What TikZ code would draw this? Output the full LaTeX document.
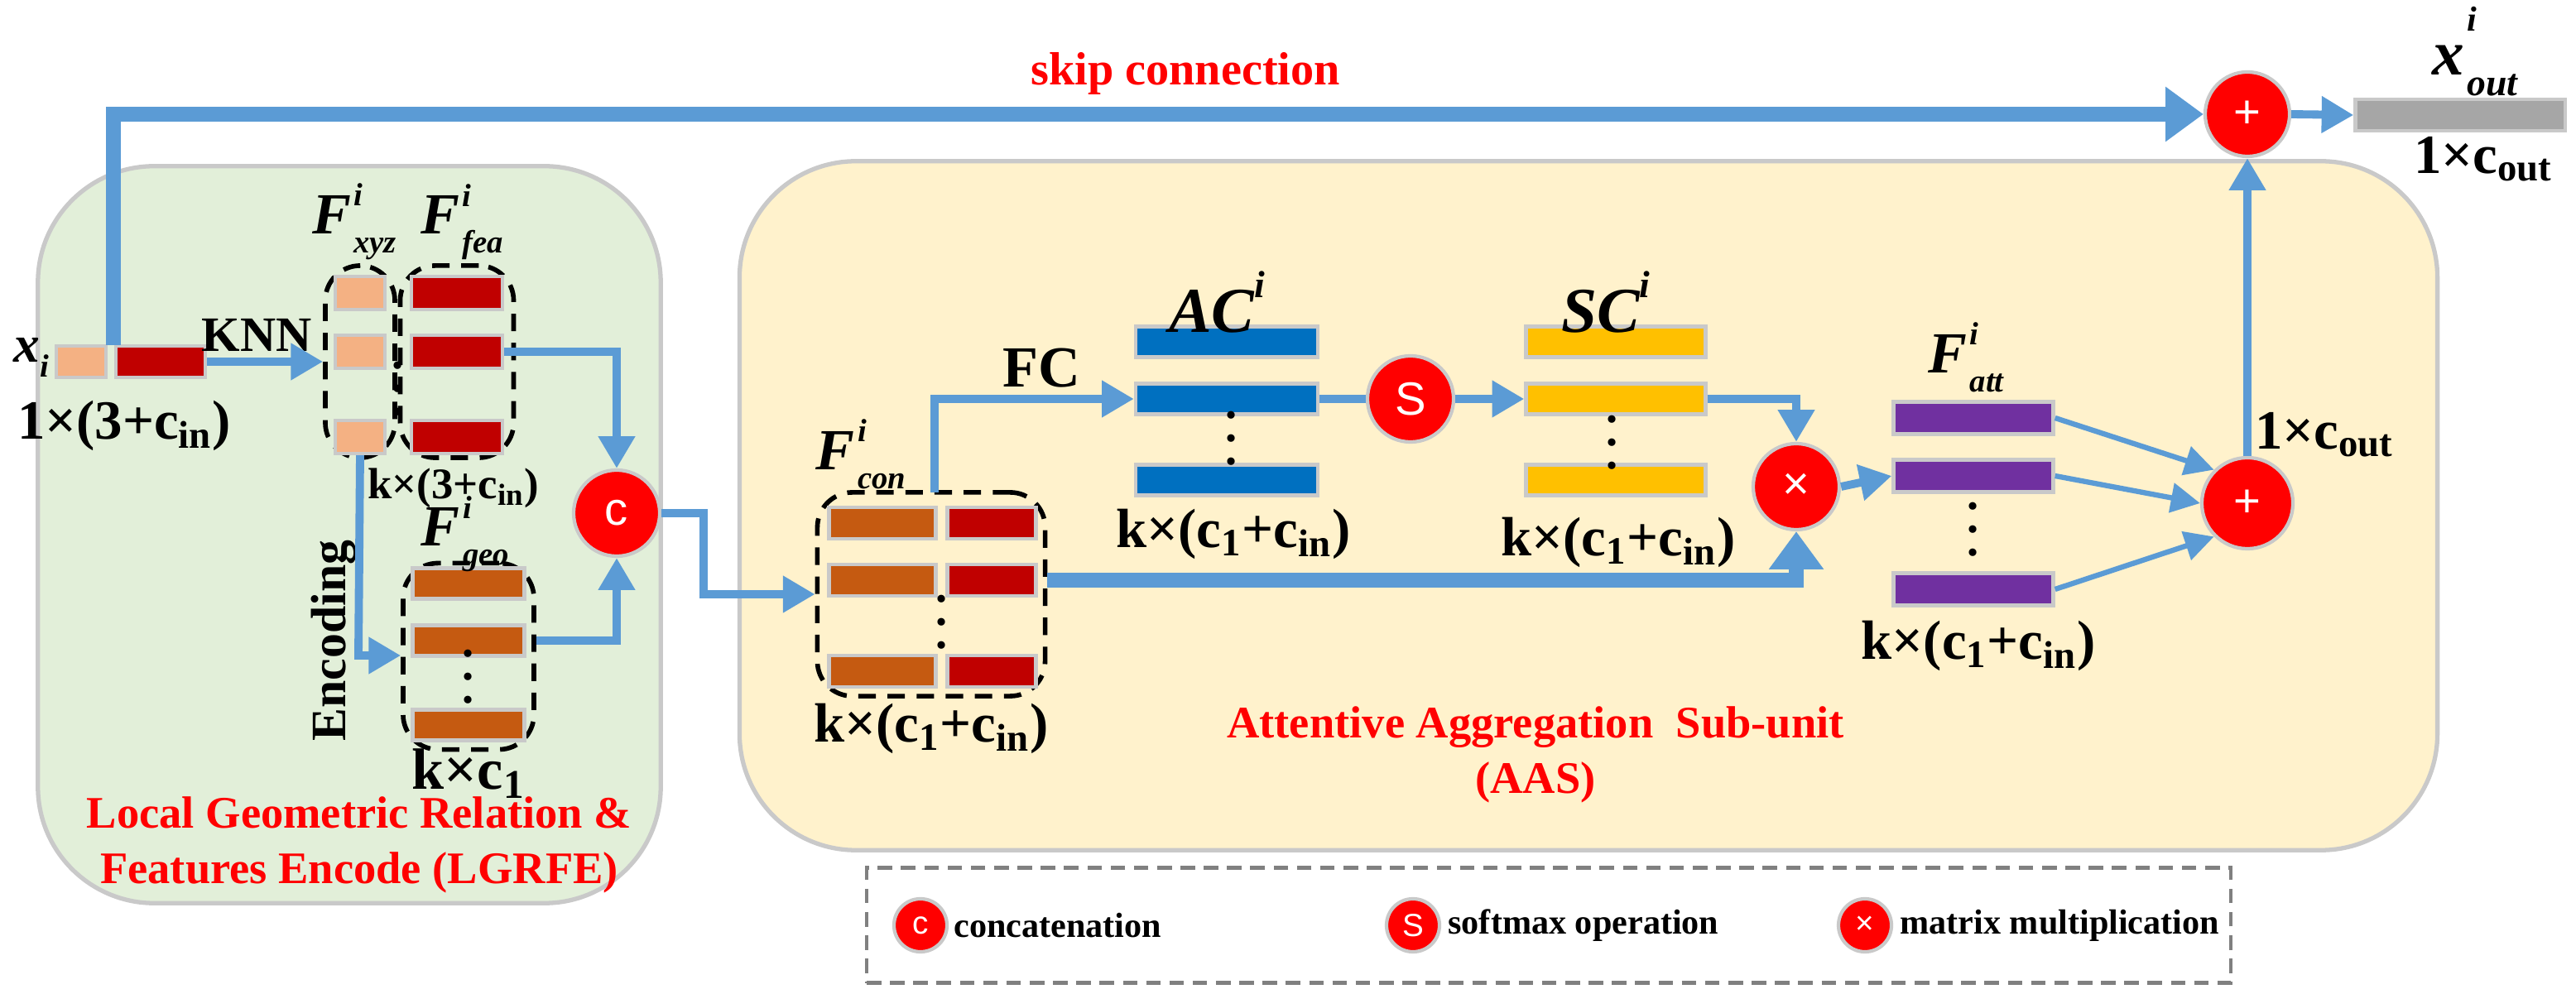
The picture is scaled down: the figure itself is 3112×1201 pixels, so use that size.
\documentclass[tikz,border=0pt]{standalone}
\usepackage{fontspec}
\setmainfont{Liberation Serif}
\newfontfamily\sfx{Liberation Sans}
\usetikzlibrary{arrows.meta}
\definecolor{lgreen}{HTML}{E2EFD9}
\definecolor{lyellow}{HTML}{FFF2CC}
\definecolor{lblue}{HTML}{5B9BD5}
\definecolor{peach}{HTML}{F4B183}
\definecolor{dred}{HTML}{C00000}
\definecolor{orng}{HTML}{C55A11}
\definecolor{mblue}{HTML}{0070C0}
\definecolor{gold}{HTML}{FFC000}
\definecolor{purp}{HTML}{7030A0}
\definecolor{gbar}{HTML}{A6A6A6}
\definecolor{bord}{HTML}{C9C9C9}
\newcommand\Flab[3]{\fontsize{20}{20}\selectfont\bfseries\itshape #1\kern1pt\makebox[0pt][l]{\raisebox{1.05ex}{\fontsize{11}{11}\selectfont #2}}\raisebox{-0.7ex}{\fontsize{11}{11}\selectfont #3}}
\newcommand\kk{\textbf{k×(c\textsubscript{1}+c\textsubscript{in})}}
\tikzset{
  bar/.style={draw=bord,line width=1.2pt,inner sep=0pt},
  dbox/.style={draw=black,line width=1.6pt,dash pattern=on 6pt off 4pt,rounded corners=12pt},
  op/.style={circle,fill=red,draw=bord,line width=1.2pt,minimum size=1.04cm,inner sep=0pt,text=white,font=\sfx\fontsize{16}{16}\selectfont},
  thick/.style={lblue,line width=5pt,-{Triangle[width=18pt,length=13pt]}},
  med/.style={lblue,line width=2.8pt,-{Triangle[width=12pt,length=11pt]}},
  thin/.style={lblue,line width=1.8pt,-{Triangle[width=10pt,length=10pt]}},
  txt/.style={font=\fontsize{17}{17}\selectfont\bfseries},
  red title/.style={text=red,font=\fontsize{15.5}{19}\selectfont\bfseries,align=center},
  dots/.style={font=\fontsize{16}{8}\selectfont\bfseries,align=center,inner sep=0pt}
}
\begin{document}
\begin{tikzpicture}[x=0.01cm,y=-0.01cm]
\useasboundingbox (0,0) rectangle (3112,1201);
% panels
\node[draw=bord,line width=1.5pt,fill=lgreen,rounded corners=40pt,minimum width=7.52cm,minimum height=8.9cm] (green) at (422,646) {};
\node[draw=bord,line width=1.5pt,fill=lyellow,rounded corners=40pt,minimum width=20.5cm,minimum height=8.32cm] (yellow) at (1919,611) {};
\node[draw=gray,line width=1.2pt,dash pattern=on 5pt off 3pt,minimum width=16.47cm,minimum height=1.39cm] (legend) at (1871,1118) {};
% input
\node[bar,fill=peach,minimum width=0.6cm,minimum height=0.38cm] (inp) at (98,437) {};
\node[bar,fill=dred,minimum width=1.08cm,minimum height=0.38cm] (inr) at (194,437) {};
\node[font=\fontsize{18}{18}\selectfont\bfseries\itshape] (xi) at (38,432) {x\raisebox{-0.6ex}{\fontsize{11}{11}\selectfont i}};
\node[txt,font=\fontsize{19}{19}\selectfont\bfseries] (l1) at (150,514) {1×(3+c\textsubscript{in})};
% Fxyz / Ffea
\node[dbox,minimum width=0.84cm,minimum height=2.32cm] (bxyz) at (435,437) {};
\node[dbox,minimum width=1.37cm,minimum height=2.32cm] (bfea) at (552,437) {};
\foreach \y/\n in {354/1,425/2,528/3}{
  \node[bar,fill=peach,minimum width=0.6cm,minimum height=0.4cm] (p\n) at (435,\y) {};
  \node[bar,fill=dred,minimum width=1.1cm,minimum height=0.4cm] (r\n) at (552,\y) {};
}
\node[dots] (dd1) at (481,470) {.\\.\\.};
\node (lxyz) at (428,268) {\Flab{F}{i}{xyz}};
\node (lfea) at (558,268) {\Flab{F}{i}{fea}};
\node[txt,font=\fontsize{15}{15}\selectfont\bfseries] (l2) at (548,590) {k×(3+c\textsubscript{in})};
\node[txt] (knn) at (310,405) {KNN};
\draw[med] (inr.east) -- (bxyz.west |- inr.east);
% Fgeo
\node[dbox,minimum width=1.58cm,minimum height=2.25cm] (bgeo) at (566,793) {};
\foreach \y/\n in {705/1,774/2,876/3}{
  \node[bar,fill=orng,minimum width=1.35cm,minimum height=0.37cm] (g\n) at (566,\y) {};
}
\node[dots] (dd2) at (566,818) {.\\.\\.};
\node (lgeo) at (562,645) {\Flab{F}{i}{geo}};
\node[txt,font=\fontsize{20}{20}\selectfont\bfseries] (l3) at (566,935) {k×c\textsubscript{1}};
\node[txt,rotate=90] (enc) at (403,774) {Encoding};
\coordinate (encTurn) at (433,792);
\draw[med] (p3.south) -- (encTurn) -- (bgeo.west |- encTurn);
% concat
\node[op] (cc) at (745,620) {c};
\draw[med] (r2.east) -| (cc.north);
\draw[med] (bgeo.east |- g2) -| (cc.south);
\node[red title] (t1) at (434,1021) {Local Geometric Relation \&\\Features Encode (LGRFE)};
% skip
\node[op,minimum size=1.02cm] (pl1) at (2715,138) {+};
\coordinate (sk) at (137,138);
\draw[thick] (137,417) -- (sk) -- (pl1.west);
\node[text=red,font=\fontsize{16}{16}\selectfont\bfseries] (skl) at (1432,89) {skip connection};
\node[bar,fill=gbar,minimum width=2.53cm,minimum height=0.38cm] (out) at (2972,139) {};
\draw[med] (pl1.east) -- (out.west);
\node (lout) at (2990,62) {\fontsize{22}{22}\selectfont\bfseries\itshape x\kern1pt\makebox[0pt][l]{\raisebox{1.5ex}{\fontsize{12}{12}\selectfont i}}\raisebox{-0.7ex}{\fontsize{13}{13}\selectfont out}};
\node[txt,font=\fontsize{19}{19}\selectfont\bfseries] (l4) at (3000,192) {1×c\textsubscript{out}};
% Fcon
\node[dbox,minimum width=2.75cm,minimum height=2.46cm] (bcon) at (1125,718) {};
\foreach \y/\n in {632/1,701/2,811/3}{
  \node[bar,fill=orng,minimum width=1.29cm,minimum height=0.38cm] (co\n) at (1066,\y) {};
  \node[bar,fill=dred,minimum width=1.07cm,minimum height=0.38cm] (cr\n) at (1198,\y) {};
}
\node[dots] (dd3) at (1138,752) {.\\.\\.};
\node (lcon) at (1040,549) {\Flab{F}{i}{con}};
\node[txt,font=\fontsize{19}{19}\selectfont\bfseries] (l5) at (1125,880) {\kk};
\coordinate (c1) at (850,620);
\coordinate (c2) at (850,718);
\draw[med] (cc.east) -- (c1) -- (c2) -- (bcon.west |- c2);
% AC
\foreach \y/\n in {413/1,482/2,580/3}{
  \node[bar,fill=mblue,minimum width=2.2cm,minimum height=0.37cm] (a\n) at (1482,\y) {};
  \node[bar,fill=gold,minimum width=2.17cm,minimum height=0.37cm] (s\n) at (1952,\y) {};
}
\node[dots] (dd4) at (1488,530) {.\\.\\.};
\node[dots] (dd5) at (1948,535) {.\\.\\.};
\node[font=\fontsize{22}{22}\selectfont\bfseries\itshape] (lac) at (1470,365) {AC\raisebox{1.2ex}{\fontsize{13}{13}\selectfont i}};
\node[font=\fontsize{22}{22}\selectfont\bfseries\itshape] (lsc) at (1940,365) {SC\raisebox{1.2ex}{\fontsize{13}{13}\selectfont i}};
\node[txt,font=\fontsize{19}{19}\selectfont\bfseries] (l6) at (1490,645) {\kk};
\node[txt,font=\fontsize{19}{19}\selectfont\bfseries] (l7) at (1955,655) {\kk};
\node[txt,font=\fontsize{20}{20}\selectfont\bfseries] (fc) at (1258,445) {FC};
\coordinate (fcT) at (1129,482);
\draw[med] (1129,595) -- (fcT) -- (a2.west);
\node[op] (ss) at (1704,482) {S};
\draw[lblue,line width=2.8pt] (a2.east) -- (ss.west);
\draw[med] (ss.east) -- (s2.west);
\node[op] (mm) at (2170,588) {×};
\draw[med] (s2.east) -| (mm.north);
\draw[thick] (bcon.east |- co2) -| (mm.south);
% Fatt
\foreach \y/\n in {505/1,575/2,712/3}{
  \node[bar,fill=purp,minimum width=1.93cm,minimum height=0.39cm] (f\n) at (2384,\y) {};
}
\node[dots] (dd6) at (2384,640) {.\\.\\.};
\node (latt) at (2375,432) {\Flab{F}{i}{att}};
\node[txt,font=\fontsize{19}{19}\selectfont\bfseries] (l8) at (2390,780) {\kk};
\draw[med] (mm.east) -- (f2.west);
\node[op,minimum size=1.1cm] (pl2) at (2715,608) {+};
\draw[thin] (f1.east) -- (pl2.north west);
\draw[thin] (f2.east) -- (pl2.west);
\draw[thin] (f3.east) -- (pl2.south west);
\draw[med] (pl2.north) -- (pl1.south);
\node[txt,font=\fontsize{19}{19}\selectfont\bfseries] (l9) at (2808,525) {1×c\textsubscript{out}};
\node[red title] (t2) at (1855,912) {Attentive Aggregation\ \ Sub-unit\\(AAS)};
% legend
\node[op,minimum size=0.64cm,font=\sfx\fontsize{11}{11}\selectfont] (lg1) at (1112,1118) {c};
\node[anchor=west,font=\fontsize{12}{12}\selectfont\bfseries] (lt1) at (1140,1118) {concatenation};
\node[op,minimum size=0.64cm,font=\sfx\fontsize{11}{11}\selectfont] (lg2) at (1707,1118) {S};
\node[anchor=west,font=\fontsize{12}{12}\selectfont\bfseries] (lt2) at (1737,1118) {softmax operation};
\node[op,minimum size=0.64cm,font=\sfx\fontsize{11}{11}\selectfont] (lg3) at (2253,1118) {×};
\node[anchor=west,font=\fontsize{12}{12}\selectfont\bfseries] (lt3) at (2283,1118) {matrix multiplication};
\end{tikzpicture}
\end{document}
